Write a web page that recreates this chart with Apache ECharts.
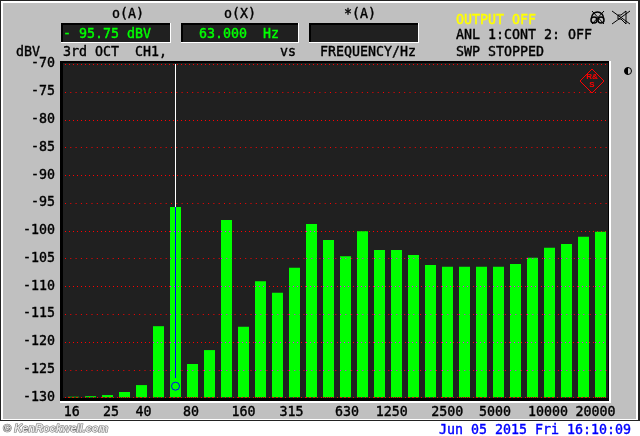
<!DOCTYPE html>
<html>
<head>
<meta charset="utf-8">
<style>html,body{margin:0;padding:0;background:#fff}#c{width:640px;height:436px}</style>
<script src="https://cdn.jsdelivr.net/npm/echarts@6/dist/echarts.min.js"></script>
</head>
<body>
<div id="c"></div>
<script>
const categories = ['16','20','25','31.5','40','50','63','80','100','125','160','200','250','315','400','500','630','800','1000','1250','1600','2000','2500','3150','4000','5000','6300','8000','10000','12500','16000','20000'];
const levels = [-129.9,-129.8,-129.6,-129.05,-127.8,-117.2,-95.75,-124,-121.5,-98.1,-117.3,-109.1,-111.2,-106.7,-98.8,-101.7,-104.6,-100.1,-103.5,-103.5,-104.4,-106.2,-106.5,-106.5,-106.5,-106.5,-106,-104.9,-103.1,-102.4,-101.1,-100.2];
const tickLabels = ['16','25','40','80','160','315','630','1250','2500','5000','10000','20000'];
const tickLabelCentres = [71.7,111,143.5,191,243.5,291.5,347,391.7,447.2,495,548,595.5];
const gridLevels = [-130,-125,-120,-115,-110,-105,-100,-95,-90,-85,-80,-75,-70];
const axisFloor = -130;
const cursorCategory = '63';
const cursorLevel = -95.75;
const cursorMarkerLevel = -128;
const cursorBlueEnd = -126.55;

const FONT = '"DejaVu Sans Mono","Liberation Mono",monospace';
const PANEL = '#c0c0c0', DARK = '#202020';
function txt(s, x, y, fill, extra) {
  const c = fill||'#000';
  return {type:'text', z:5, silent:true, style:Object.assign({text:s, x:x, y:y+1.5, font:'13.3px '+FONT, fill:c, stroke:c, lineWidth:0.4, textVerticalAlign:'middle'}, extra||{})};
}
function rect(x,y,w,h,fill,z){return {type:'rect',silent:true,z:z===undefined?-10:z,shape:{x,y,width:w,height:h},style:{fill}};}
function box(x,y,w,h){
  return [rect(x,y,w,h,'#fff',-9), rect(x,y,w-1,h-1,'#000',-8), rect(x+2,y+2,w-3,h-3,DARK,-7)];
}
function ln(x1,y1,x2,y2,c,w,z){return {type:'line',silent:true,z:z||6,shape:{x1,y1,x2,y2},style:{stroke:c||'#000',lineWidth:w||1}};}

const graphics = [].concat(
  [rect(0,0,640,436,'#fff',-20), rect(0,0,640,421,'#222',-19), rect(1,1,637,419,'#fff',-18), rect(3,3,633,416,PANEL,-17)],
  box(61,23,110,20), box(181,23,118,20), box(309,23,110,20),
  [rect(60,61,551,342,'#fff',-12), rect(60,61,549,340,'#000',-11), rect(63,63,545,335,DARK,-10)],
  [
    txt('o(A)',112,13), txt('o(X)',224,13), txt('*(A)',344,13),
    txt('- 95.75 dBV',63,33,'#00ff00'), txt('63.000  Hz',199,33,'#00ff00'),
    txt('dBV',16,51), txt('3rd OCT  CH1,',63,51), txt('vs',280,51), txt('FREQUENCY/Hz',320,51),
    txt('OUTPUT OFF',456,19,'#ffff00'), txt('ANL 1:CONT 2: OFF',456,34), txt('SWP STOPPED',456,51),
    txt('Jun 05 2015 Fri 16:10:09',439,429,'#0000ff'),
    {type:'text',silent:true,z:5,style:{text:'© KenRockwell.com',x:3,y:428.5,font:'italic bold 11px "Liberation Sans",sans-serif',fill:'#e8e8e8',stroke:'#707070',lineWidth:1.1,textVerticalAlign:'middle'}},
    {type:'polygon',silent:true,z:6,shape:{points:[[592,69],[604,81],[592,93],[580,81]]},style:{fill:'none',stroke:'#ff0000',lineWidth:1}},
    {type:'text',silent:true,z:6,style:{text:'R&\nS',x:592,y:81,font:'bold 8px "Liberation Sans",sans-serif',fill:'#ff0000',textAlign:'center',textVerticalAlign:'middle',lineHeight:8}},
    {type:'circle',silent:true,z:6,shape:{cx:628,cy:71,r:3.5},style:{fill:PANEL,stroke:'#000',lineWidth:1}},
    {type:'sector',silent:true,z:7,shape:{cx:628,cy:71,r:3.5,startAngle:Math.PI/2,endAngle:Math.PI*1.5},style:{fill:'#000'}},
    {type:'circle',silent:true,z:6,shape:{cx:594,cy:20,r:3},style:{fill:PANEL,stroke:'#000',lineWidth:1.5}},
    {type:'circle',silent:true,z:6,shape:{cx:601,cy:20,r:3},style:{fill:PANEL,stroke:'#000',lineWidth:1.5}},
    {type:'arc',silent:true,z:6,shape:{cx:597.5,cy:18,r:6,startAngle:Math.PI,endAngle:Math.PI*2},style:{fill:'none',stroke:'#000',lineWidth:1.5}},
    ln(592,11,604,24), ln(604,11,592,24),
    {type:'polygon',silent:true,z:6,shape:{points:[[618,15],[621,15],[626,11],[626,24],[621,19],[618,19]]},style:{fill:'none',stroke:'#000',lineWidth:1}},
    ln(612,11,630,24), ln(630,11,612,24)
  ]
);

function gridY(api,i,g){ return Math.round(api.coord([i,g])[1])+0.5; }

const chart = echarts.init(document.getElementById('c'), null, {renderer:'canvas'});
chart.setOption({
  animation:false,
  backgroundColor:'#fff',
  graphic:{elements:graphics},
  grid:{left:65, top:64, width:544, height:333.3, show:false},
  xAxis:[
    {type:'category', data:categories, boundaryGap:true,
     axisLine:{show:false}, axisTick:{show:false}, axisLabel:{show:false}, splitLine:{show:false}},
    {type:'value', min:65, max:609, position:'bottom', scale:true,
     axisLine:{show:false}, axisTick:{show:false}, splitLine:{show:false}, minorSplitLine:{show:false},
     axisLabel:{show:true, margin:9, customValues:tickLabelCentres, color:'#000', fontFamily:FONT, fontSize:13.3,
       textBorderColor:'#000', textBorderWidth:0.4,
       hideOverlap:false, showMinLabel:true, showMaxLabel:true,
       formatter:function(v){const i=tickLabelCentres.indexOf(v);return i<0?'':tickLabels[i];}}}
  ],
  yAxis:{type:'value', min:-130, max:-70, interval:10,
    axisLine:{show:false}, axisTick:{show:false},
    axisLabel:{show:true, margin:10, color:'#000', fontFamily:FONT, fontSize:13.3, customValues:gridLevels,
      textBorderColor:'#000', textBorderWidth:0.4, padding:[2,0,0,0],
      verticalAlignMinLabel:'middle', verticalAlignMaxLabel:'middle', showMinLabel:true, showMaxLabel:true},
    splitLine:{show:false}
  },
  series:[
    {type:'custom', xAxisIndex:0, silent:true, z:1, clip:false,
     data:gridLevels.map(function(g){return [0,g];}),
     renderItem:function(p,api){
       const g=api.value(1), y=gridY(api,0,g), major=(g%10)===0;
       return {type:'line',shape:{x1:65,y1:y,x2:607,y2:y},
         style:{stroke:'#ff0000',lineWidth:1,lineDash:major?[1,3]:[1,4.3]}};
     }},
    {type:'bar', name:'floor', stack:'spl', stackStrategy:'all', data:levels.map(function(){return axisFloor;}),
     barWidth:11, itemStyle:{color:'transparent'}, silent:true, z:2, xAxisIndex:0},
    {type:'bar', name:'level', stack:'spl', stackStrategy:'all', data:levels.map(function(v){return v-axisFloor;}),
     barWidth:11, itemStyle:{color:'#00ff00'}, silent:true, z:2, xAxisIndex:0},
    {type:'custom', xAxisIndex:0, silent:true, z:3, clip:false,
     data:levels.map(function(v,i){return [i,v];}),
     renderItem:function(p,api){
       const i=api.value(0), v=api.value(1), kids=[];
       const x=api.coord([i,v])[0];
       gridLevels.forEach(function(g){
         if(g<=v){
           const y=gridY(api,i,g);
           const major=(g%10)===0;
           kids.push({type:'line',shape:{x1:x-5.5,y1:y,x2:x+5.5,y2:y},
             style:{stroke:g===axisFloor?'#ff0000':'#ff00ff',lineWidth:1,lineDash:major?[1,3]:[1,4.3]}});
         }
       });
       return {type:'group',children:kids};
     }},
    {type:'custom', xAxisIndex:0, silent:true, z:4, clip:false,
     data:[[categories.indexOf(cursorCategory),cursorLevel,cursorMarkerLevel,cursorBlueEnd]],
     renderItem:function(p,api){
       const i=api.value(0);
       const t=api.coord([i,-70]), b=api.coord([i,api.value(1)]), e=api.coord([i,api.value(3)]), m=api.coord([i,api.value(2)]);
       return {type:'group',children:[
         {type:'line',shape:{x1:t[0],y1:t[1],x2:b[0],y2:b[1]},style:{stroke:'#ffffff',lineWidth:1}},
         {type:'line',shape:{x1:b[0],y1:b[1],x2:e[0],y2:e[1]},style:{stroke:'#0000ff',lineWidth:1}},
         {type:'circle',shape:{cx:m[0],cy:m[1],r:4},style:{fill:'none',stroke:'#0000ff',lineWidth:1}}
       ]};
     }}
  ]
});
</script>
</body>
</html>
